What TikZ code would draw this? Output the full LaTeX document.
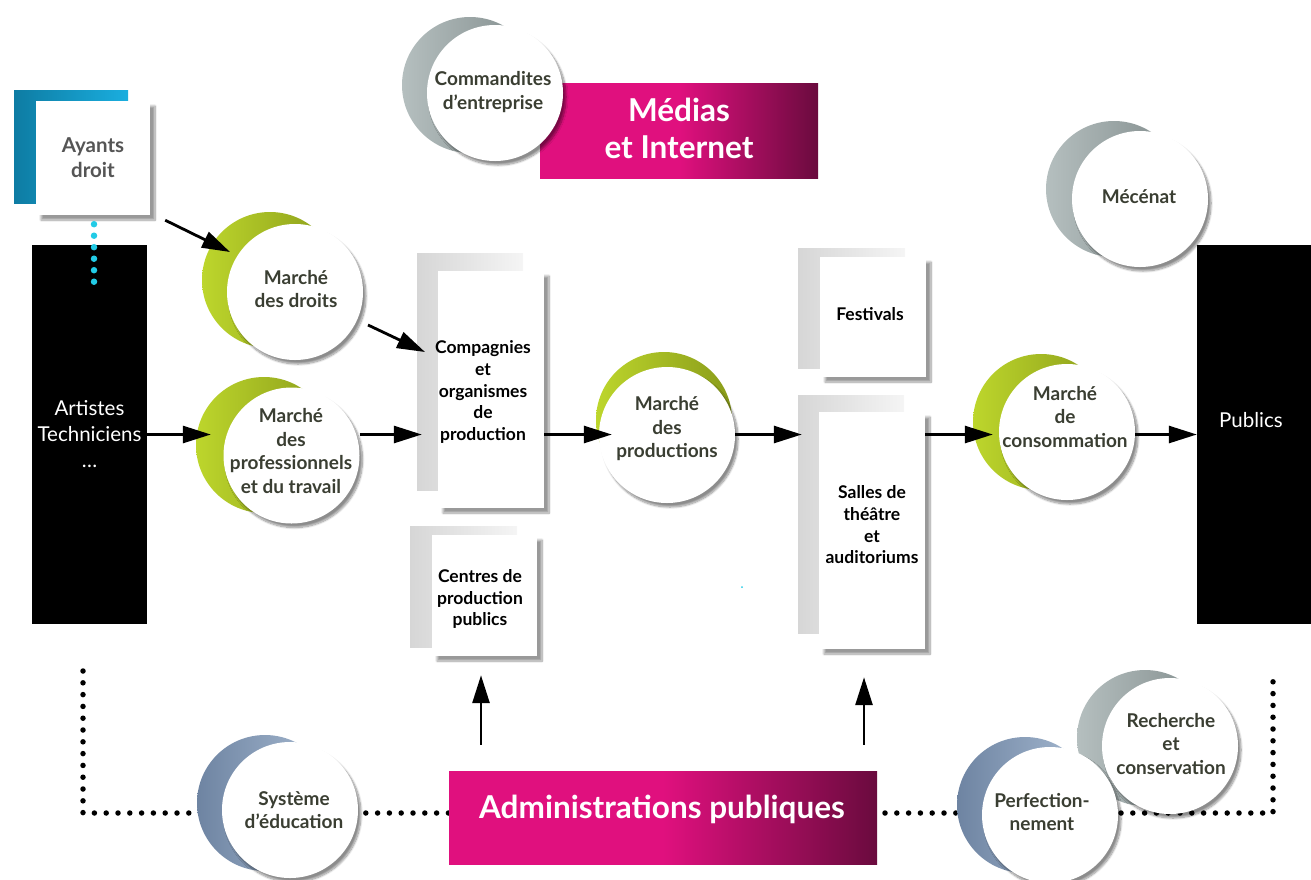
\documentclass[tikz,border=0pt]{standalone}
\usepackage{fontspec}
\setmainfont{Lato}
\usetikzlibrary{arrows.meta,shadows.blur,calc}
\definecolor{mag}{HTML}{E0107E}
\definecolor{dmag}{HTML}{6A0B3E}
\definecolor{gA}{HTML}{BDD62C}
\definecolor{gB}{HTML}{8A9C1A}
\definecolor{grA}{HTML}{B5BFBF}
\definecolor{grB}{HTML}{808B8B}
\definecolor{blA}{HTML}{6E84A2}
\definecolor{blB}{HTML}{A9BCD3}
\definecolor{circtxt}{HTML}{3A3E32}
\definecolor{cyanA}{HTML}{22CBE6}
\definecolor{blueA}{HTML}{0E7CA3}
\definecolor{blueB}{HTML}{1AAEDF}
\definecolor{ayt}{HTML}{555555}
\newcommand\csemi{\bfseries\fontsize{19}{23.5}\selectfont}
\newcommand\bsemi{\bfseries\fontsize{17.5}{21.7}\selectfont}
\tikzset{
  bgcirc/.style={circle, minimum size=136pt, inner sep=0pt, draw=none},
  gback/.style={bgcirc, left color=gA, right color=gB},
  grback/.style={bgcirc, left color=grA, right color=grB},
  blback/.style={bgcirc, left color=blA, right color=blB},
  wcirc/.style={circle, fill=white, minimum size=136pt, inner sep=0pt, align=center,
    text=circtxt, font=\csemi,
    blur shadow={shadow xshift=3pt, shadow yshift=-4pt, shadow blur steps=10, shadow opacity=45}},
  ctext/.style={align=center, text=circtxt, font=\csemi, inner sep=0pt},
  blackbox/.style={rectangle, fill=black, minimum width=115pt, minimum height=379pt,
    inner sep=0pt, text=white, align=center, font=\fontsize{20.5}{26}\selectfont},
  backbox/.style={rectangle, inner sep=0pt, left color=gray!32, right color=gray!8},
  frontbox/.style={rectangle, fill=white, inner sep=0pt, align=center, font=\bsemi, text=black,
    blur shadow={shadow xshift=5pt, shadow yshift=-5pt, shadow blur steps=10, shadow opacity=40}},
  magbox/.style={rectangle, inner sep=0pt, left color=mag, right color=dmag, middle color=mag},
  magtext/.style={text=white, align=center, font=\bfseries\fontsize{31.5}{37}\selectfont, inner sep=0pt},
  arr/.style={line width=2.8pt, -{Triangle[length=28pt,width=17pt]}},
  blackdots/.style={line width=5.5pt, line cap=round, dash pattern=on 0pt off 11.8pt, black},
  cyandots/.style={line width=6.5pt, line cap=round, dash pattern=on 0pt off 11.5pt, cyanA},
}
\begin{document}
\begin{tikzpicture}[x=1pt,y=-1pt]
\useasboundingbox (0,0) rectangle (1311,879);

% dotted frame at the bottom
\coordinate (dl1) at (83,671);
\coordinate (dl2) at (83,813);
\coordinate (dl3) at (1273,813);
\coordinate (dl4) at (1273,671);
\draw[blackdots] (dl1) -- (dl2) -- (dl3) -- (dl4);

% Ayants droit
\node[rectangle, inner sep=0pt, minimum width=114pt, minimum height=113pt,
      left color=blueA, right color=blueB] (ayantsb) at (71,146.5) {};
\node[frontbox, minimum width=114pt, minimum height=114pt, text=ayt,
      font=\bfseries\fontsize{20.5}{25}\selectfont] (ayants) at (93,158) {Ayants\\droit};

% black boxes
\node[blackbox] (art) at (89.5,434.5) {Artistes\\Techniciens\\\dots};
\node[blackbox, minimum width=114pt] (publics) at (1254,434.5) {};
\node[text=white, font=\fontsize{20.5}{26}\selectfont, inner sep=0pt] (pubtxt) at (1251,420) {Publics};

% cyan dots
\draw[cyandots] ($(ayants.south)+(1,9)$) -- ($(art.north)+(4.5,38)$);

% Medias et Internet
\node[magbox, minimum width=278pt, minimum height=95pt] (medias) at (679,130.5) {};
\node[magtext] (mediast) at (679,128) {Médias\\et Internet};

% Administrations publiques
\node[magbox, minimum width=428pt, minimum height=93pt] (admin) at (663,817.5) {};
\node[magtext, anchor=base] (admint) at (662,818) {Administrations publiques};

% Commandites
\node[grback] (commb) at (470,85) {};
\node[wcirc] (comm) at (495,93) {};
\node[ctext] (commt) at (493,92) {Commandites\\d’entreprise};

% Mecenat
\node[grback] (mecb) at (1114,189) {};
\node[wcirc] (mec) at (1140,199) {};
\node[ctext] (mect) at (1139,197) {Mécénat};

% Marche des droits
\node[gback] (mdroitsb) at (270,280) {};
\node[wcirc] (mdroits) at (295,292) {};
\node[ctext] (mdroitst) at (296,289) {Marché\\des droits};

% Marche des professionnels
\node[gback] (mprofb) at (264,445) {};
\node[wcirc] (mprof) at (291.5,455.5) {};
\node[ctext] (mproft) at (291,451) {Marché\\des\\professionnels\\et du travail};

% Marche des productions
\node[gback] (mprodb) at (664,420) {};
\node[wcirc] (mprod) at (667,435) {};
\node[ctext] (mprodt) at (667,429) {Marché\\des\\productions};

% Marche de consommation
\node[gback] (mconsob) at (1041,422) {};
\node[wcirc] (mconso) at (1067,432) {};
\node[ctext] (mconsot) at (1065,417) {Marché\\de\\consommation};

% Systeme d'education
\node[blback] (sysb) at (265,803) {};
\node[wcirc] (sys) at (290,810) {};
\node[ctext] (syst) at (294,810) {Système\\d’éducation};

% Recherche et conservation
\node[grback] (rechb) at (1145,738) {};
\node[wcirc] (rech) at (1170,746) {};
\node[ctext] (recht) at (1171,744) {Recherche\\et\\conservation};

% Perfectionnement
\node[blback] (perfb) at (1025,805) {};
\node[wcirc] (perf) at (1050,815) {};
\node[ctext] (perft) at (1042,812) {Perfection-\\nement};

% Compagnies
\node[backbox, minimum width=106pt, minimum height=237pt] (compb) at (470,371.5) {};
\node[frontbox, minimum width=106pt, minimum height=237pt] (comp) at (491,389.5) {};
\node[align=center, font=\bsemi, inner sep=0pt] (compt) at (483,392) {Compagnies\\et\\organismes\\de\\production};

% Centres de production publics
\node[backbox, minimum width=107pt, minimum height=121pt] (centresb) at (463.5,586.5) {};
\node[frontbox, minimum width=105pt, minimum height=121pt] (centres) at (484.5,595.5) {};
\node[align=center, font=\bsemi, inner sep=0pt] (centrest) at (480,599) {Centres de\\production\\publics};

% Festivals
\node[backbox, minimum width=107pt, minimum height=120pt] (festb) at (851.5,308) {};
\node[frontbox, minimum width=106pt, minimum height=120pt] (fest) at (873,317) {};
\node[font=\bsemi, inner sep=0pt] (festt) at (870,314) {Festivals};

% Salles
\node[backbox, minimum width=106pt, minimum height=238pt] (sallesb) at (851,514) {};
\node[frontbox, minimum width=106pt, minimum height=237pt] (salles) at (872,530.5) {};
\node[align=center, font=\bsemi, inner sep=0pt] (sallest) at (872,525) {Salles de\\théâtre\\et\\auditoriums};

% tiny speck
\fill[cyanA] (742,587) circle (1pt);

% arrows
\draw[arr] ($(ayants.south east)+(15,5)$) -- ($(mdroitsb.center)+(-40,-28)$);
\draw[arr] ($(mdroits.center)+(73,33)$) -- ($(compb.center)+(-45,-19.5)$);
\draw[arr] (art.east) -- ($(art.east -| mprofb.west)+(15,0)$);
\draw[arr] (art.east -| mprof.east) -- ($(art.east -| compb.west)+(5,0)$);
\draw[arr] (art.east -| comp.east) -- ($(art.east -| mprod.west)+(13,0)$);
\draw[arr] (art.east -| mprod.east) -- ($(art.east -| sallesb.west)+(4,0)$);
\draw[arr] (art.east -| salles.east) -- ($(art.east -| mconso.west)+(-6,0)$);
\draw[arr] (art.east -| mconso.east) -- (art.east -| publics.west);
\draw[arr] ($(centres.south |- admin.north)+(-3.5,-26)$) -- ($(centres.south)+(-3.5,19)$);
\draw[arr] ($(salles.south |- admin.north)+(-8,-26)$) -- ($(salles.south)+(-8,28)$);
\end{tikzpicture}
\end{document}
